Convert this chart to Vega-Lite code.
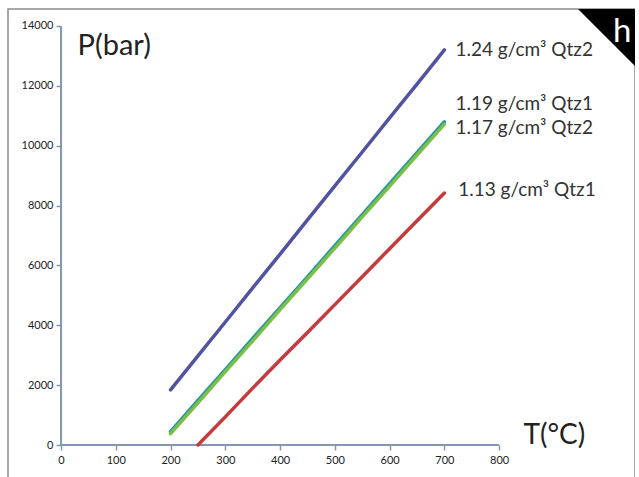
{
  "$schema": "https://vega.github.io/schema/vega-lite/v6.json",
  "autosize": "none",
  "padding": {"left": 8, "top": 9, "right": 0, "bottom": 0},
  "width": 627,
  "height": 475,
  "background": "white",
  "config": {
    "view": {"stroke": "#8c8c8c", "strokeWidth": 1.5},
    "font": "Lato"
  },
  "datasets": {
    "lines": [
      {"s": "1.13 Qtz1", "T": 250, "P": 0},
      {"s": "1.13 Qtz1", "T": 300, "P": 940},
      {"s": "1.13 Qtz1", "T": 350, "P": 1900},
      {"s": "1.13 Qtz1", "T": 400, "P": 2840},
      {"s": "1.13 Qtz1", "T": 450, "P": 3760},
      {"s": "1.13 Qtz1", "T": 500, "P": 4690},
      {"s": "1.13 Qtz1", "T": 550, "P": 5620},
      {"s": "1.13 Qtz1", "T": 600, "P": 6560},
      {"s": "1.13 Qtz1", "T": 650, "P": 7490},
      {"s": "1.13 Qtz1", "T": 700, "P": 8420},
      {"s": "1.19 Qtz1", "T": 200, "P": 450},
      {"s": "1.19 Qtz1", "T": 250, "P": 1490},
      {"s": "1.19 Qtz1", "T": 300, "P": 2520},
      {"s": "1.19 Qtz1", "T": 350, "P": 3560},
      {"s": "1.19 Qtz1", "T": 400, "P": 4590},
      {"s": "1.19 Qtz1", "T": 450, "P": 5620},
      {"s": "1.19 Qtz1", "T": 500, "P": 6660},
      {"s": "1.19 Qtz1", "T": 550, "P": 7700},
      {"s": "1.19 Qtz1", "T": 600, "P": 8730},
      {"s": "1.19 Qtz1", "T": 650, "P": 9770},
      {"s": "1.19 Qtz1", "T": 700, "P": 10800},
      {"s": "1.17 Qtz2", "T": 200, "P": 380},
      {"s": "1.17 Qtz2", "T": 250, "P": 1410},
      {"s": "1.17 Qtz2", "T": 300, "P": 2450},
      {"s": "1.17 Qtz2", "T": 350, "P": 3480},
      {"s": "1.17 Qtz2", "T": 400, "P": 4520},
      {"s": "1.17 Qtz2", "T": 450, "P": 5550},
      {"s": "1.17 Qtz2", "T": 500, "P": 6580},
      {"s": "1.17 Qtz2", "T": 550, "P": 7620},
      {"s": "1.17 Qtz2", "T": 600, "P": 8650},
      {"s": "1.17 Qtz2", "T": 650, "P": 9690},
      {"s": "1.17 Qtz2", "T": 700, "P": 10720},
      {"s": "1.24 Qtz2", "T": 200, "P": 1840},
      {"s": "1.24 Qtz2", "T": 250, "P": 2980},
      {"s": "1.24 Qtz2", "T": 300, "P": 4110},
      {"s": "1.24 Qtz2", "T": 350, "P": 5250},
      {"s": "1.24 Qtz2", "T": 400, "P": 6380},
      {"s": "1.24 Qtz2", "T": 450, "P": 7520},
      {"s": "1.24 Qtz2", "T": 500, "P": 8660},
      {"s": "1.24 Qtz2", "T": 550, "P": 9790},
      {"s": "1.24 Qtz2", "T": 600, "P": 10930},
      {"s": "1.24 Qtz2", "T": 650, "P": 12060},
      {"s": "1.24 Qtz2", "T": 700, "P": 13200}
    ],
    "labels": [
      {"label": "1.24 g/cm³ Qtz2", "T": 700, "P": 13200},
      {"label": "1.19 g/cm³ Qtz1", "T": 700, "P": 11390},
      {"label": "1.17 g/cm³ Qtz2", "T": 700, "P": 10590},
      {"label": "1.13 g/cm³ Qtz1", "T": 705, "P": 8520}
    ],
    "axes": [
      {"T": 0, "P": 0, "T2": 800, "P2": 0},
      {"T": 0, "P": 0, "T2": 0, "P2": 14000}
    ],
    "corner": [{"T": 996, "P": 13615, "tag": "h"}],
    "tag": [{"T": 1024.7, "P": 13465, "tag": "h"}]
  },
  "encoding": {
    "x": {
      "field": "T", "type": "quantitative",
      "scale": {"domain": [-96.8, 1048], "nice": false, "zero": false},
      "axis": {
        "values": [0, 100, 200, 300, 400, 500, 600, 700, 800],
        "format": "d",
        "domain": false, "grid": false, "offset": -39,
        "tickColor": "#8497B0", "tickSize": 5, "tickWidth": 1.5,
        "labelFontSize": 11, "labelColor": "#222", "labelPadding": 4, "labelFont": "Lato",
        "title": "T(°C)", "titleFont": "Lato", "titleFontSize": 28, "titleFontWeight": "normal",
        "titleColor": "#222", "titleX": 515, "titleY": -10, "titleAlign": "left",
        "titleBaseline": "middle", "titleAngle": 0
      }
    },
    "y": {
      "field": "P", "type": "quantitative",
      "scale": {"domain": [-1303, 14567], "nice": false, "zero": false},
      "axis": {
        "values": [0, 2000, 4000, 6000, 8000, 10000, 12000, 14000],
        "format": "d",
        "domain": false, "grid": false, "offset": -53,
        "tickColor": "#8497B0", "tickSize": 5, "tickWidth": 1.5,
        "labelFontSize": 11, "labelColor": "#222", "labelPadding": 3, "labelFont": "Lato",
        "title": "P(bar)", "titleFont": "Lato", "titleFontSize": 29, "titleFontWeight": "normal",
        "titleColor": "#222", "titleX": 16, "titleY": 36, "titleAlign": "left",
        "titleBaseline": "middle", "titleAngle": 0
      }
    }
  },
  "layer": [
    {
      "data": {"name": "axes"},
      "mark": {"type": "rule", "color": "#8497B0", "strokeWidth": 2},
      "encoding": {"x2": {"field": "T2"}, "y2": {"field": "P2"}}
    },
    {
      "data": {"name": "lines"},
      "mark": {"type": "line", "strokeWidth": 3.5, "strokeCap": "round", "strokeJoin": "round"},
      "encoding": {
        "color": {
          "field": "s", "type": "nominal", "legend": null,
          "scale": {
            "domain": ["1.13 Qtz1", "1.19 Qtz1", "1.17 Qtz2", "1.24 Qtz2"],
            "range": ["#C53A3C", "#2496A8", "#7CBF45", "#5153A1"]
          }
        },
        "order": {"value": 0}
      }
    },
    {
      "data": {"name": "labels"},
      "mark": {"type": "text", "align": "left", "baseline": "middle", "dx": 11, "fontSize": 19, "font": "Lato", "color": "#333"},
      "encoding": {"text": {"field": "label"}}
    },
    {
      "data": {"name": "corner"},
      "mark": {"type": "point", "shape": "M -1 -1 L 1 -1 L 1 1 Z", "filled": true, "color": "black", "opacity": 1, "size": 3249, "clip": false},
      "encoding": {}
    },
    {
      "data": {"name": "tag"},
      "mark": {"type": "text", "align": "center", "baseline": "alphabetic", "fontSize": 33, "font": "Lato", "color": "white"},
      "encoding": {"text": {"field": "tag"}}
    }
  ]
}
